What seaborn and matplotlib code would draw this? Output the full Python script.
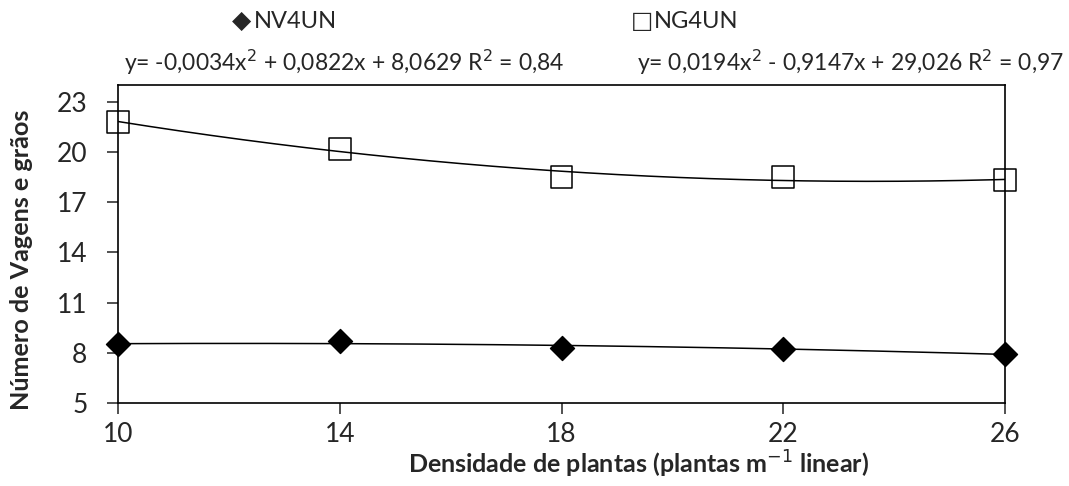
import numpy as np
import pandas as pd
import seaborn as sns
import matplotlib.pyplot as plt

densidade = [10, 14, 18, 22, 26]
nv4un = [8.5, 8.7, 8.3, 8.2, 7.9]
ng4un = [21.8, 20.2, 18.5, 18.5, 18.3]
coef_nv = [-0.0034, 0.0822, 8.0629]
coef_ng = [0.0194, -0.9147, 29.026]
yticks = [5, 8, 11, 14, 17, 20, 23]

sns.set_style('white')
plt.rcParams['font.family'] = ['Lato', 'DejaVu Sans']

fig = plt.figure(figsize=(10.69, 4.86), dpi=100)
ax = fig.add_axes([118/1069, 83/486, 887/1069, 318/486])

xs = np.linspace(10, 26, 200)
curves = pd.DataFrame({
    'x': xs,
    'nv': np.polyval(coef_nv, xs),
    'ng': np.polyval(coef_ng, xs),
})
sns.lineplot(data=curves, x='x', y='nv', color='black', lw=1.1, ax=ax)
sns.lineplot(data=curves, x='x', y='ng', color='black', lw=1.1, ax=ax)

pts = pd.DataFrame({'x': densidade, 'nv': nv4un, 'ng': ng4un})
sns.scatterplot(data=pts, x='x', y='nv', marker='D', s=150, color='black',
                edgecolor='black', ax=ax, zorder=5, clip_on=False)
sns.scatterplot(data=pts, x='x', y='ng', marker='s', s=250, facecolor='none',
                edgecolor='black', linewidth=1.1, ax=ax, zorder=5, clip_on=False)

ax.set_xlim(10, 26)
ax.set_ylim(5, 24)
ax.set_xticks(densidade)
ax.set_yticks(yticks)
ax.tick_params(axis='both', direction='out', length=8, width=1.2, labelsize=19,
               left=True, bottom=True, color='#333333')
ax.tick_params(axis='y', pad=14)
ax.tick_params(axis='x', pad=6)
for s in ax.spines.values():
    s.set_color('black')
    s.set_linewidth(1.2)

ax.set_xlabel('Densidade de plantas (plantas m$^{-1}$ linear)', fontsize=18,
              fontweight='bold')
ax.set_ylabel('Número de Vagens e grãos', fontsize=18.2, fontweight='bold')
ax.xaxis.set_label_coords(0.587, -0.145)
ax.yaxis.set_label_coords(-0.096, 0.45)

# legend across the top
fig.text(251/1069, 1 - 21/486, '\u25c6', ha='right', va='center', fontsize=18,
         family=['DejaVu Sans'])
fig.text(254/1069, 1 - 21/486, 'NV4UN', ha='left', va='center', fontsize=17)
fig.text(653/1069, 1 - 21/486, '\u25a1', ha='right', va='center', fontsize=17,
         family=['DejaVu Sans'])
fig.text(654/1069, 1 - 21/486, 'NG4UN', ha='left', va='center', fontsize=17)
fig.text(344/1069, 1 - 62/486, 'y= -0,0034x$^2$ + 0,0822x + 8,0629 R$^2$ = 0,84',
         ha='center', va='center', fontsize=16.5)
fig.text(850/1069, 1 - 62/486, 'y= 0,0194x$^2$ - 0,9147x + 29,026 R$^2$ = 0,97',
         ha='center', va='center', fontsize=16.5)

fig.savefig('out.png', dpi=100)
